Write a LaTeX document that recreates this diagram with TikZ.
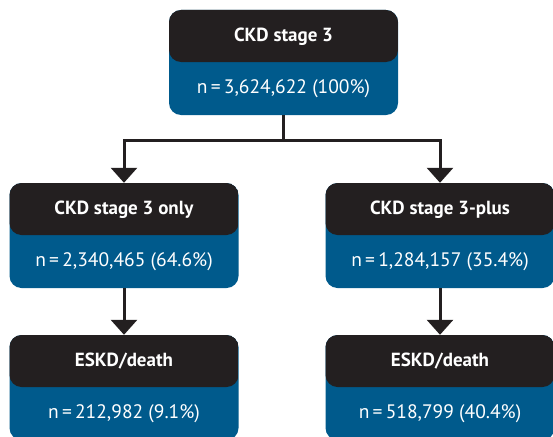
\documentclass[tikz,border=0pt]{standalone}
\usepackage{fontspec}
\setmainfont{PT Sans}
\usetikzlibrary{arrows.meta}
\definecolor{hdark}{HTML}{231F20}
\definecolor{cblue}{HTML}{005A8C}
\tikzset{
  flowbox/.style={fill=cblue, rounded corners=12pt, minimum width=229pt, minimum height=105pt, inner sep=0pt,
    path picture={\fill[hdark] (path picture bounding box.north west) rectangle ([yshift=-52pt]path picture bounding box.north east);}},
  titletext/.style={text=white, font=\fontsize{19}{22}\selectfont\bfseries, inner sep=0pt},
  counttext/.style={text=white, font=\fontsize{19.5}{22}\selectfont, inner sep=0pt},
  conn/.style={draw=hdark, line width=3pt},
  arr/.style={conn, -{Triangle[width=26pt,length=15pt]}}
}
\begin{document}
\begin{tikzpicture}[x=1pt,y=-1pt]
\useasboundingbox (0,0) rectangle (553,436);
% boxes
\node[flowbox] (top) at (283.5,62.5) {};
\node[flowbox] (l1) at (124,235.5) {};
\node[flowbox] (r1) at (440,235.5) {};
\node[flowbox] (l2) at (124,387.5) {};
\node[flowbox] (r2) at (440,387.5) {};
% texts
\node[titletext] (topT) at (283.5,36.5) {CKD stage 3};
\node[counttext] (topN) at (283.5,89) {n\,=\,3,624,622 (100\%)};
\node[titletext] (l1T) at (124,209.5) {CKD stage 3 only};
\node[counttext] (l1N) at (124,262) {n\,=\,2,340,465 (64.6\%)};
\node[titletext] (r1T) at (440,209.5) {CKD stage 3-plus};
\node[counttext] (r1N) at (440,262) {n\,=\,1,284,157 (35.4\%)};
\node[titletext] (l2T) at (124,361.5) {ESKD/death};
\node[counttext] (l2N) at (124,414) {n\,=\,212,982 (9.1\%)};
\node[titletext] (r2T) at (440,361.5) {ESKD/death};
\node[counttext] (r2N) at (440,414) {n\,=\,518,799 (40.4\%)};
% connectors
\coordinate (split) at (283.5,140);
\draw[conn] (top.south) -- (split);
\draw[arr] (split) -| (l1.north);
\draw[arr] (split) -| (r1.north);
\draw[arr] (l1.south) -- (l2.north);
\draw[arr] (r1.south) -- (r2.north);
\end{tikzpicture}
\end{document}
